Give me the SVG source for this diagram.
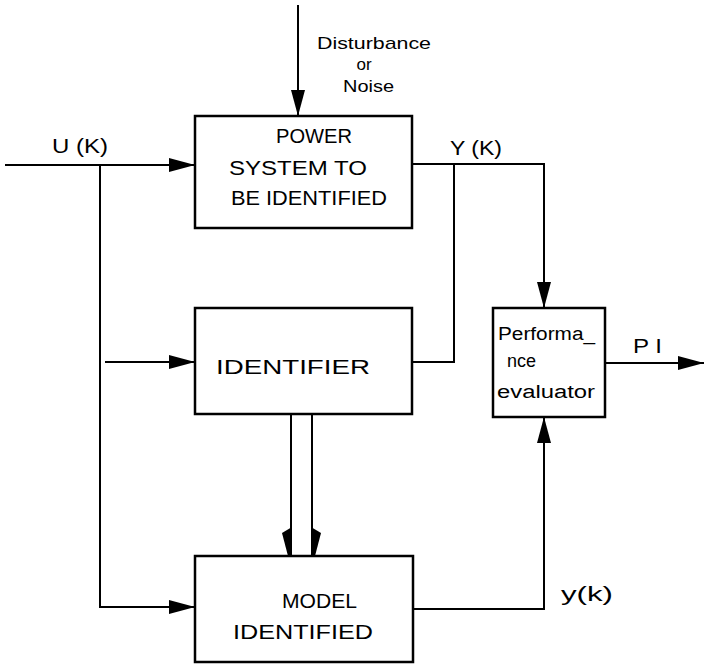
<svg xmlns="http://www.w3.org/2000/svg" width="704" height="664" viewBox="0 0 704 664">
<style>
.box{fill:#fff;stroke:#000;stroke-width:2.5}
.ln{fill:none;stroke:#000;stroke-width:2}
.t{font-family:"Liberation Sans",Arial,sans-serif;font-size:21px;fill:#000}
.s{font-size:18px}
.d{font-size:17px}
</style>
<defs>
<marker id="ah" markerWidth="26" markerHeight="14" refX="26" refY="7" orient="auto" markerUnits="userSpaceOnUse">
<path d="M0,0 L26,7 L0,14 z" fill="#000"/>
</marker>
</defs>
<rect width="704" height="664" fill="#fff"/>
<g id="connectors">
<path class="ln" d="M298,5 V116" marker-end="url(#ah)"/>
<path class="ln" d="M5,165 H195" marker-end="url(#ah)"/>
<path class="ln" d="M100,165 V607 H195" marker-end="url(#ah)"/>
<path class="ln" d="M105,362 H195" marker-end="url(#ah)"/>
<path class="ln" d="M412,164 H544 V308" marker-end="url(#ah)"/>
<path class="ln" d="M454,164 V362 H412"/>
<path class="ln" d="M605,363 H704" marker-end="url(#ah)"/>
<path class="ln" d="M413,609 H544 V417" marker-end="url(#ah)"/>
<path class="ln" d="M291,414 V556"/>
<path class="ln" d="M312,414 V556"/>
<polygon points="282,533 292,527 292,556 288,556" fill="#000"/>
<polygon points="321,533 311,527 311,556 315,556" fill="#000"/>
</g>
<g id="power-system">
<rect class="box" x="195" y="116" width="217" height="112"/>
<text class="t" x="276" y="143" textLength="76" lengthAdjust="spacingAndGlyphs">POWER</text>
<text class="t" x="229" y="175" textLength="138" lengthAdjust="spacingAndGlyphs">SYSTEM TO</text>
<text class="t" x="231" y="205" textLength="156" lengthAdjust="spacingAndGlyphs">BE IDENTIFIED</text>
</g>
<g id="identifier">
<rect class="box" x="195" y="308" width="217" height="106"/>
<text class="t" x="216" y="374" textLength="154" lengthAdjust="spacingAndGlyphs">IDENTIFIER</text>
</g>
<g id="performance-evaluator">
<rect class="box" x="493" y="308" width="112" height="109"/>
<text class="t s" x="498" y="340" textLength="97" lengthAdjust="spacingAndGlyphs">Performa_</text>
<text class="t s" x="507" y="367">nce</text>
<text class="t s" x="497" y="398" textLength="98" lengthAdjust="spacingAndGlyphs">evaluator</text>
</g>
<g id="model-identified">
<rect class="box" x="195" y="556" width="218" height="106"/>
<text class="t" x="282" y="608" textLength="75" lengthAdjust="spacingAndGlyphs">MODEL</text>
<text class="t" x="233" y="639" textLength="140" lengthAdjust="spacingAndGlyphs">IDENTIFIED</text>
</g>
<g id="labels">
<text class="t d" x="317" y="49" textLength="114" lengthAdjust="spacingAndGlyphs">Disturbance</text>
<text class="t d" x="364" y="70" text-anchor="middle">or</text>
<text class="t d" x="343" y="92" textLength="51" lengthAdjust="spacingAndGlyphs">Noise</text>
<text class="t" x="52" y="153" textLength="56" lengthAdjust="spacingAndGlyphs">U (K)</text>
<text class="t" x="450" y="155" textLength="52" lengthAdjust="spacingAndGlyphs">Y (K)</text>
<text class="t" x="633" y="353" textLength="29" lengthAdjust="spacingAndGlyphs">P I</text>
<text class="t" x="561" y="601" textLength="52" lengthAdjust="spacingAndGlyphs">y(k)</text>
</g>
</svg>
